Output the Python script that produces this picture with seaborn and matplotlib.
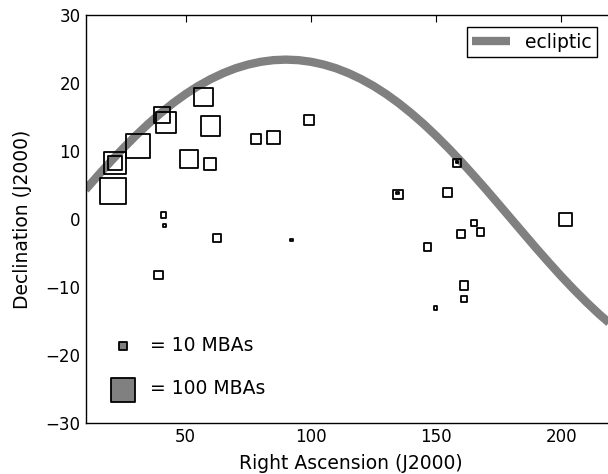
import numpy as np
import pandas as pd
import matplotlib
matplotlib.use("Agg")
import matplotlib.pyplot as plt
import seaborn as sns

# -----------------------------
# Data
# -----------------------------
# main-belt asteroid groups: RA, Dec and number of MBAs in each group
ra = [21.9, 21.9, 20.9, 31.1, 40.5, 42.2, 57.1, 59.9, 51.3, 59.7,
      78.1, 85.1, 99.2, 41.3, 41.5, 62.5, 92.2, 39.2, 134.9, 134.6,
      158.3, 158.3, 154.7, 165.2, 159.9, 167.7, 146.5, 201.8, 161.2, 161.2,
      149.8]
dec = [8.2, 8.2, 4.1, 10.7, 15.3, 14.2, 18.0, 13.7, 8.8, 8.1,
       11.8, 12.0, 14.6, 0.6, -1.0, -2.8, -3.1, -8.2, 3.6, 3.8,
       8.2, 8.4, 3.9, -0.6, -2.2, -1.9, -4.1, -0.1, -9.8, -11.8,
       -13.1]
n_mba = [87, 38, 121, 108, 48, 79, 61, 71, 56, 26,
         19, 32, 20, 5, 2, 13, 1, 13, 18, 1,
         11, 1, 15, 6, 11, 10, 11, 31, 13, 7,
         2]

# ecliptic, sampled off the plotted curve
ecl_ra = [10, 15, 20, 25, 30, 35, 40, 45, 50, 55, 60, 65, 70, 75, 80, 85,
          90, 95, 100, 105, 110, 115, 120, 125, 130, 135, 140, 145, 150,
          155, 160, 165, 170, 175, 180, 185, 190, 195, 200, 205, 210, 215,
          220, 225]
ecl_dec = [4.31, 6.40, 8.44, 10.38, 12.23, 13.97, 15.57, 17.05, 18.38, 19.56,
           20.58, 21.45, 22.17, 22.72, 23.12, 23.36, 23.44, 23.36, 23.12,
           22.72, 22.17, 21.45, 20.58, 19.56, 18.38, 17.05, 15.57, 13.97,
           12.23, 10.38, 8.44, 6.40, 4.31, 2.16, 0.0, -2.16, -4.31, -6.40,
           -8.44, -10.38, -12.23, -13.97, -15.57, -17.05]

legend_counts = [10, 100]
size_per_mba = 2.8  # points^2 per asteroid

df = pd.DataFrame({"RA": ra, "Dec": dec, "N": n_mba})
ecl = pd.DataFrame({"RA": ecl_ra, "Dec": ecl_dec})

# -----------------------------
# Style
# -----------------------------
sns.set_style("white")
plt.rcParams.update({
    "font.family": ["DejaVu Sans"],
    "font.size": 13.5,
    "xtick.direction": "in",
    "ytick.direction": "in",
    "xtick.top": True,
    "ytick.right": True,
    "xtick.major.size": 5,
    "ytick.major.size": 5,
    "xtick.labelsize": 12,
    "ytick.labelsize": 12,
    "axes.labelsize": 13.5,
    "legend.fontsize": 13.5,
    "axes.edgecolor": "black",
    "axes.linewidth": 1.0,
    "xtick.color": "black",
    "ytick.color": "black",
    "text.color": "black",
    "axes.labelcolor": "black",
})

W, H = 608, 474
fig = plt.figure(figsize=(W / 100, H / 100), dpi=100)
# right spine sits just past the image edge
ax = fig.add_axes([85.5 / W, 51 / H, 531 / W, 408 / H])

# -----------------------------
# Plot
# -----------------------------
sns.lineplot(data=ecl, x="RA", y="Dec", color="gray", linewidth=6,
             sort=False, solid_capstyle="butt", ax=ax, zorder=2)
ecl_line = ax.lines[-1]

sns.scatterplot(data=df, x="RA", y="Dec", s=df["N"] * size_per_mba,
                marker="s", color="k", legend=False, ax=ax, zorder=3)
pts = ax.collections[-1]
pts.set_facecolor("none")
pts.set_edgecolor("k")
pts.set_linewidth(1.3)

ax.set_xlim(10, 222)
ax.set_ylim(-30, 30)
ax.set_xticks([50, 100, 150, 200])
ax.set_yticks([-30, -20, -10, 0, 10, 20, 30])
ax.set_xlabel("Right Ascension (J2000)", labelpad=6)
ax.set_ylabel("Declination (J2000)", labelpad=10)

# legend for the ecliptic
leg1 = ax.legend([ecl_line], ["ecliptic"], loc="upper right",
                 bbox_to_anchor=(597 / W, 1 - 27 / H),
                 bbox_transform=fig.transFigure, borderaxespad=0,
                 frameon=True, fancybox=False, edgecolor="black",
                 framealpha=1, handlelength=2.0, borderpad=0.3)
leg1.get_frame().set_linewidth(1.0)
ax.add_artist(leg1)

# size key
handles = []
for n in legend_counts:
    h = ax.scatter([], [], s=n * size_per_mba, marker="s", facecolor="gray",
                   edgecolor="k", linewidths=1.3, label=f"= {n} MBAs")
    handles.append(h)
ax.legend(handles=handles, loc="lower left",
          bbox_to_anchor=(97 / W, 1 - 406 / H),
          bbox_transform=fig.transFigure, borderaxespad=0, frameon=False,
          scatterpoints=1, labelspacing=1.3, handlelength=2.0,
          handletextpad=0.4)

fig.savefig("out.png", dpi=100)
